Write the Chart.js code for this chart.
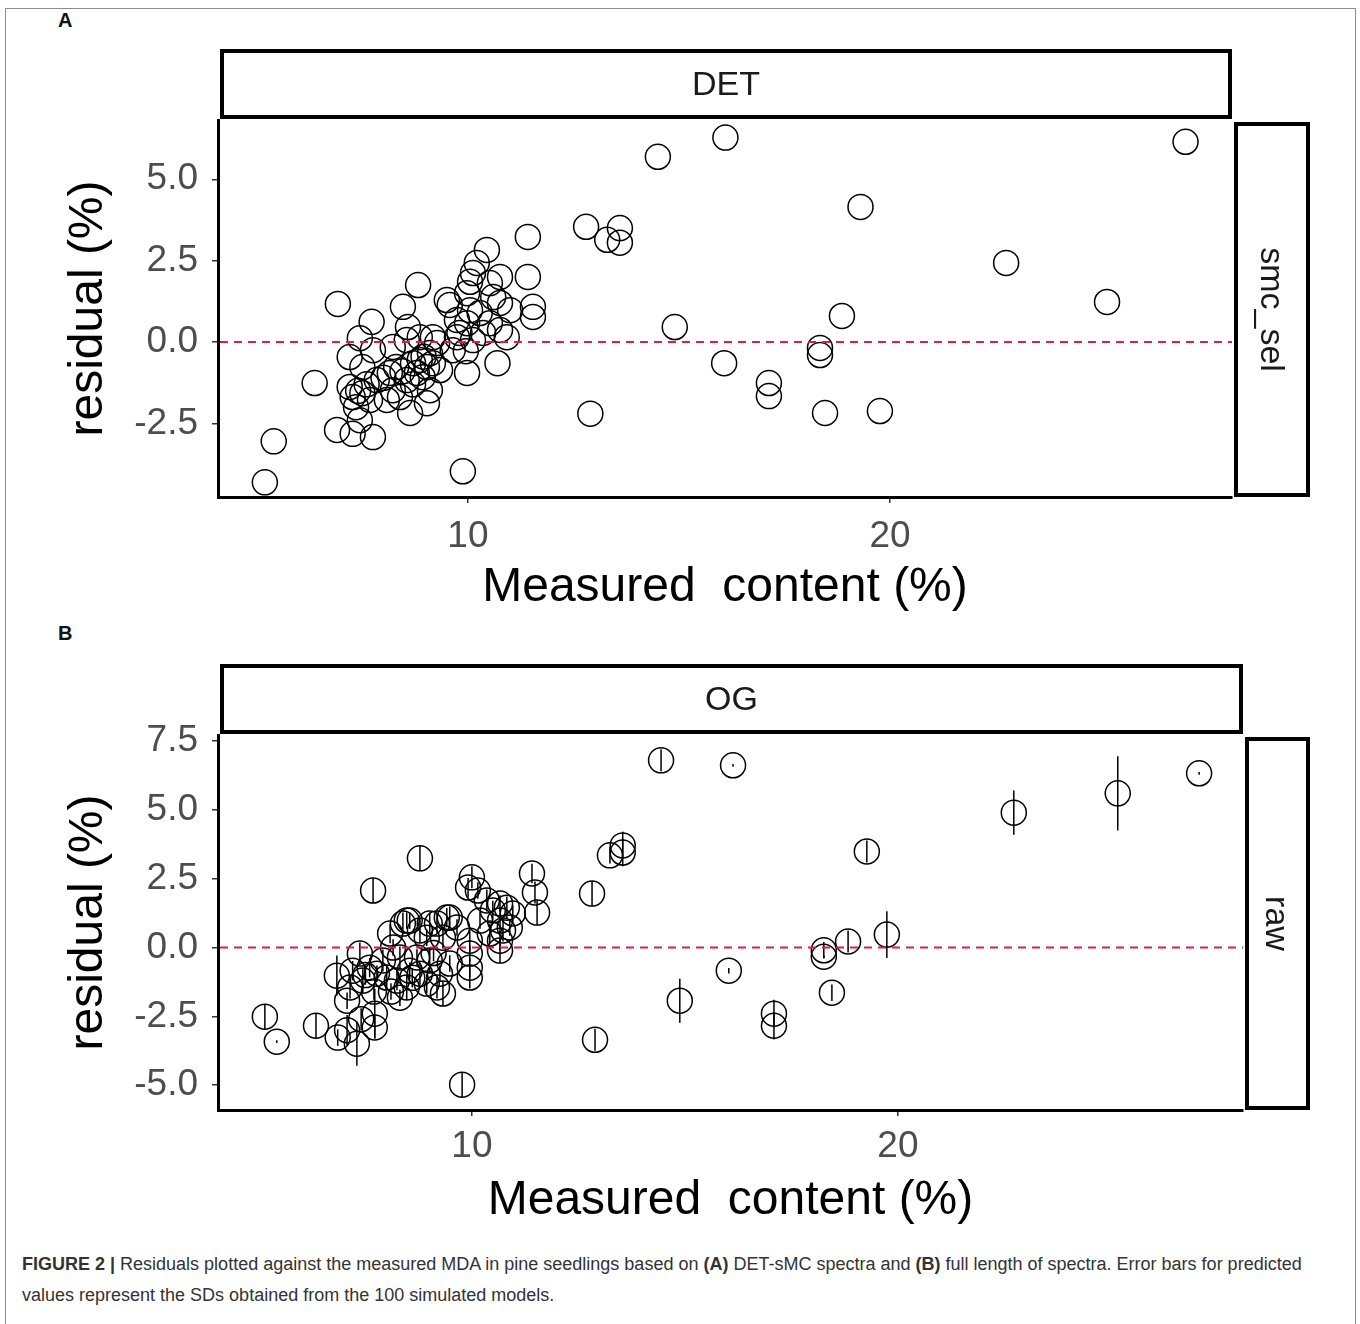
<!DOCTYPE html>
<html lang="en">
<head>
<meta charset="UTF-8" />
<title>Residuals vs measured content</title>
<script src="https://cdn.jsdelivr.net/npm/chart.js"></script>
<style>
  body { margin: 0; background: #fff; width: 1360px; height: 1324px; position: relative; overflow: hidden;
         font-family: "Liberation Sans", Arial, sans-serif; }
  .frame { position: absolute; left: 5px; top: 8px; width: 1349px; height: 1340px; border: 1px solid #8c8c8c; }
  .panel-label { position: absolute; left: 58px; font-weight: bold; font-size: 20px; line-height: 20px; color: #111; }
  .panel { position: absolute; left: 0; }
  .caption { position: absolute; left: 22px; top: 1249px; width: 1330px; font-size: 18px; line-height: 31px; color: #333; }
</style>
</head>
<body>
  <div class="frame"></div>
  <div class="panel-label" style="top:10px">A</div>
  <div class="panel-label" style="top:623px">B</div>
  <canvas id="chartA" class="panel" style="top:0" width="1360" height="620"></canvas>
  <canvas id="chartB" class="panel" style="top:620px" width="1360" height="620"></canvas>
  <div class="caption"><b>FIGURE 2 |</b> Residuals plotted against the measured MDA in pine seedlings based on <b>(A)</b> DET-sMC spectra and <b>(B)</b> full length of spectra. Error bars for predicted<br>values represent the SDs obtained from the 100 simulated models.</div>

<script>
// tick labels
const xTicks = [10, 20];
const yTicksA = [-2.5, 0, 2.5, 5.0];
const yTicksB = [-5.0, -2.5, 0, 2.5, 5.0, 7.5];

// panel A: DET / smc_sel  (measured content, residual)
const measuredA = [
  5.19, 5.40, 6.37, 6.92, 6.90, 7.27, 7.75, 7.44, 7.20, 7.44,
  7.72, 7.20, 7.27, 7.50, 7.68, 7.35, 7.84, 7.50, 7.75, 7.60,
  7.40, 8.15, 8.30, 8.22, 8.39, 8.08, 8.55, 8.70, 8.86, 9.03,
  9.17, 9.10, 9.34, 8.79, 8.93, 8.63, 9.03, 9.10, 8.22, 8.55,
  8.86, 9.27, 9.80, 9.64, 9.98, 9.95, 9.88, 8.82, 8.46, 8.58,
  9.17, 9.50, 9.57, 9.74, 9.98, 9.74, 10.12, 10.36, 10.52, 10.76,
  10.92, 10.05, 10.28, 11.00, 11.54, 11.54, 9.98, 10.60, 10.76, 10.52,
  10.05, 10.12, 10.21, 10.45, 10.76, 11.42, 11.42, 10.70, 8.00, 8.45,
  8.70, 8.95, 12.80, 13.30, 13.60, 13.60, 14.50, 14.90, 16.10, 16.07,
  12.90, 17.13, 17.13, 18.34, 18.34, 18.46, 18.86, 19.30, 19.76, 22.75,
  25.14, 27.00
];
const residualA = [
  -4.31, -3.05, -1.26, 1.17, -2.70, -2.82, -2.92, -2.40, -0.46, 0.12,
  0.62, -1.38, -1.69, -1.57, -1.78, -2.00, -1.17, -0.77, -0.25, -1.30,
  -1.50, -0.95, -0.77, -1.48, -1.69, -1.78, -1.17, -0.65, -0.55, -0.77,
  -0.65, -0.34, -0.86, -0.95, -1.08, -2.18, -1.88, -1.48, -0.15, 0.06,
  0.15, -0.03, 0.28, -0.25, -0.95, -0.28, -3.97, 1.75, 1.08, 0.46,
  0.15, 1.29, 1.14, 0.68, 0.58, 0.15, 0.06, 0.28, 0.58, 0.37,
  0.15, 0.98, 0.89, 0.98, 1.08, 0.77, 1.50, 1.38, 1.20, 1.81,
  1.85, 2.12, 2.43, 2.83, 2.00, 2.00, 3.23, -0.65, -1.10, -0.90,
  -1.30, -0.45, 3.54, 3.14, 3.05, 3.50, 5.69, 0.46, 6.28, -0.65,
  -2.20, -1.26, -1.66, -0.18, -0.40, -2.18, 0.80, 4.15, -2.12, 2.43,
  1.23, 6.15
];

// panel B: OG / raw  (measured content, residual, SD of 100 simulated models)
const measuredB = [
  6.83, 7.30, 6.85, 7.07, 7.72, 7.72, 7.37, 7.20, 7.14, 7.07,
  7.44, 7.77, 8.00, 8.24, 8.31, 8.47, 8.54, 8.78, 8.94, 9.18,
  9.25, 9.01, 8.71, 8.31, 8.08, 8.38, 8.54, 8.78, 8.94, 9.01,
  9.41, 8.15, 7.91, 7.60, 9.48, 9.32, 10.00, 9.91, 10.14, 11.41,
  11.48, 11.53, 10.66, 10.82, 10.49, 10.96, 10.66, 10.89, 10.73, 10.66,
  10.66, 10.19, 9.95, 9.95, 9.95, 9.48, 9.65, 9.18, 9.32, 8.47,
  10.35, 10.42, 9.95, 7.70, 8.60, 9.10, 7.40, 7.50, 8.10, 5.14,
  5.42, 6.34, 9.77, 7.68, 8.78, 12.82, 12.89, 13.24, 13.54, 13.54,
  14.44, 14.88, 16.03, 16.13, 17.09, 17.09, 18.26, 18.26, 18.45, 18.83,
  19.74, 19.27, 22.72, 25.16, 27.07
];
const residualB = [
  -1.02, -3.49, -3.27, -3.00, -2.40, -2.90, -0.22, -0.84, -1.45, -1.93,
  -1.20, -0.95, -1.09, -1.20, -1.82, -1.45, -0.84, -0.95, -1.31, -1.45,
  -0.95, -0.47, -0.36, -0.36, 0.51, 0.87, 0.98, 0.62, 0.36, 0.87,
  1.09, 0.00, -0.47, -0.73, -0.58, -1.67, 2.55, 2.18, 2.07, 2.69,
  2.00, 1.27, 1.60, 1.45, 1.35, 1.24, 0.98, 0.73, 0.62, 0.25,
  -0.11, 0.98, 0.25, -0.22, -0.73, 1.09, 0.73, 0.87, 0.36, 0.98,
  1.71, 0.51, -1.09, -1.60, -1.10, -0.20, -2.60, -1.00, -1.60, -2.51,
  -3.42, -2.84, -4.98, 2.07, 3.24, 1.96, -3.35, 3.35, 3.71, 3.45,
  6.80, -1.93, -0.84, 6.62, -2.40, -2.84, -0.33, -0.10, -1.64, 0.22,
  0.47, 3.49, 4.90, 5.60, 6.33
];
const sdB = [
  0.73, 0.80, 0.30, 0.55, 0.90, 0.40, 0.40, 0.35, 0.40, 0.30,
  0.45, 0.30, 0.40, 0.35, 0.30, 0.45, 0.30, 0.40, 0.35, 0.40,
  0.30, 0.45, 0.30, 0.40, 0.35, 0.40, 0.30, 0.45, 0.30, 0.40,
  0.35, 0.30, 0.40, 0.35, 0.30, 0.45, 0.40, 0.35, 0.30, 0.35,
  0.40, 0.45, 0.30, 0.40, 0.35, 0.30, 0.45, 0.30, 0.40, 0.35,
  0.45, 0.30, 0.40, 0.30, 0.35, 0.40, 0.30, 0.35, 0.40, 0.30,
  0.40, 0.35, 0.40, 0.30, 0.35, 0.30, 0.40, 0.35, 0.30, 0.45,
  0.05, 0.45, 0.45, 0.45, 0.45, 0.45, 0.40, 0.30, 0.50, 0.50,
  0.40, 0.80, 0.10, 0.05, 0.50, 0.50, 0.05, 0.30, 0.30, 0.40,
  0.85, 0.40, 0.80, 1.35, 0.05
];

const FONT = '"Liberation Sans", Arial, sans-serif';

// strips, zero line and error bars
const facetPlugin = {
  id: 'facet',
  afterDatasetsDraw(chart) {
    const { ctx, chartArea: a, scales: { x, y } } = chart;
    const pts = chart.data.datasets[0].data;
    ctx.save();
    ctx.strokeStyle = '#000';
    ctx.lineWidth = 1.5;
    pts.forEach(p => {
      if (p.sd === undefined) return;
      const px = x.getPixelForValue(p.x);
      ctx.beginPath();
      ctx.moveTo(px, y.getPixelForValue(p.y - p.sd));
      ctx.lineTo(px, y.getPixelForValue(p.y + p.sd));
      ctx.stroke();
    });
    const y0 = y.getPixelForValue(0);
    ctx.strokeStyle = '#e6194b';
    ctx.lineWidth = 2;
    ctx.setLineDash([8, 6]);
    ctx.beginPath();
    ctx.moveTo(a.left + 2, y0);
    ctx.lineTo(a.right, y0);
    ctx.stroke();
    ctx.restore();
  },
  afterDraw(chart, args, opts) {
    const { ctx, chartArea: a } = chart;
    ctx.save();
    ctx.lineWidth = 4;
    ctx.strokeStyle = '#000';
    ctx.fillStyle = '#1a1a1a';
    ctx.font = '34px ' + FONT;
    ctx.textAlign = 'center';
    ctx.textBaseline = 'middle';
    // top strip
    const tx = a.left + 4, ty = a.top - 69, tw = a.right - a.left - 6, th = 66;
    ctx.strokeRect(tx, ty, tw, th);
    ctx.fillText(opts.top, tx + tw / 2, ty + th / 2 + 2);
    // right strip
    const rx = a.right + 4, ry = a.top + 4, rw = 1308 - rx, rh = a.bottom - 2 - ry;
    ctx.strokeRect(rx, ry, rw, rh);
    ctx.translate(rx + rw / 2 - 2, ry + rh / 2);
    ctx.rotate(Math.PI / 2);
    ctx.fillText(opts.right, 0, 0);
    ctx.restore();
  }
};

function makeChart(id, xs, ys, sds, cfg) {
  const data = xs.map((v, i) => {
    const p = { x: v, y: ys[i] };
    if (sds) p.sd = sds[i];
    return p;
  });
  return new Chart(document.getElementById(id), {
    type: 'scatter',
    data: { datasets: [{
      data,
      pointStyle: 'circle',
      pointRadius: 12.5,
      pointBorderWidth: 1.5,
      pointBorderColor: '#000',
      pointBackgroundColor: 'rgba(0,0,0,0)'
    }] },
    options: {
      responsive: false,
      animation: false,
      devicePixelRatio: 1,
      layout: { padding: { top: cfg.padTop, right: cfg.padRight, left: 0, bottom: 0 } },
      plugins: {
        legend: { display: false },
        tooltip: { enabled: false },
        facet: { top: cfg.top, right: cfg.right }
      },
      scales: {
        x: {
          type: 'linear', min: cfg.xMin, max: cfg.xMax,
          afterBuildTicks: s => { s.ticks = xTicks.map(v => ({ value: v })); },
          afterFit: s => { s.height = cfg.xHeight; },
          ticks: { font: { size: 37, family: FONT }, color: '#4d4d4d', padding: cfg.xTickPad, callback: v => String(v) },
          grid: { drawOnChartArea: false, drawTicks: true, tickLength: 6, tickColor: '#333', lineWidth: 1.5 },
          border: { display: true, color: '#000', width: 3 },
          title: { display: true, text: 'Measured  content (%)', color: '#000',
                   font: { size: 48, family: FONT }, padding: { top: 0, bottom: cfg.xTitlePad } }
        },
        y: {
          type: 'linear', min: cfg.yMin, max: cfg.yMax,
          afterBuildTicks: s => { s.ticks = cfg.yTicks.map(v => ({ value: v })); },
          afterFit: s => { s.width = 218; },
          ticks: { font: { size: 37, family: FONT }, color: '#4d4d4d', padding: 14, callback: v => Number(v).toFixed(1) },
          grid: { drawOnChartArea: false, drawTicks: true, tickLength: 6, tickColor: '#333', lineWidth: 1.5 },
          border: { display: true, color: '#000', width: 3 },
          title: { display: true, text: 'residual (%)', color: '#000',
                   font: { size: 48, family: FONT }, padding: { top: 60, bottom: 0 } }
        }
      }
    },
    plugins: [facetPlugin]
  });
}

makeChart('chartA', measuredA, residualA, null, {
  top: 'DET', right: 'smc_sel',
  padTop: 120, padRight: 128, xHeight: 123, xTickPad: 12, xTitlePad: 3,
  xMin: 4.08, xMax: 28.1, yMin: -4.76, yMax: 6.82, yTicks: yTicksA
});

makeChart('chartB', measuredB, residualB, sdB, {
  top: 'OG', right: 'raw',
  padTop: 115, padRight: 117, xHeight: 130, xTickPad: 9, xTitlePad: 10,
  xMin: 4.04, xMax: 28.1, yMin: -5.9, yMax: 7.72, yTicks: yTicksB
});
</script>
</body>
</html>
